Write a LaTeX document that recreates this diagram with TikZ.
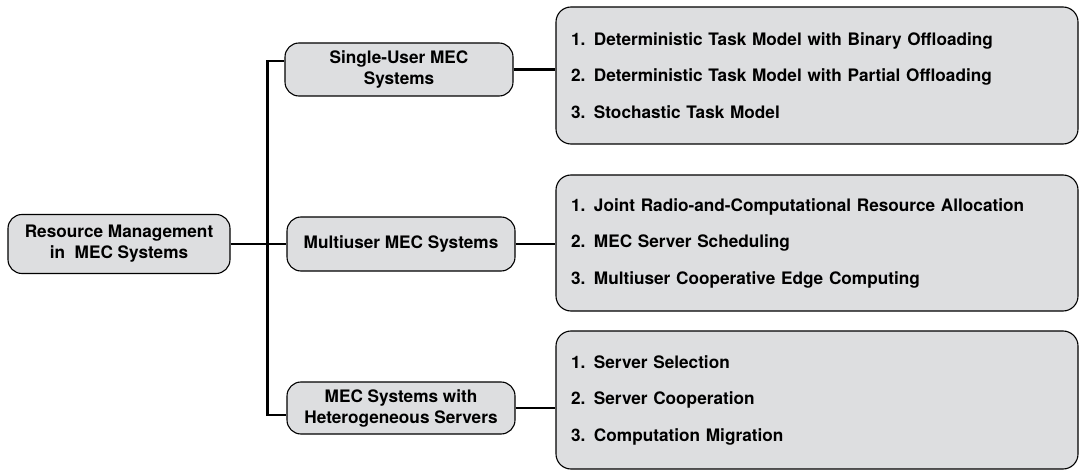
\documentclass[tikz,border=0pt]{standalone}
\usepackage{fontspec}
\setmainfont{TeX Gyre Heros}
\usepackage{tikz}
\usetikzlibrary{positioning}
\definecolor{boxgray}{RGB}{221,222,224}
\tikzstyle{catbox} = [draw, line width=1.1pt, fill=boxgray, rounded corners=14pt, align=center, inner sep=0pt]
\tikzstyle{listbox} = [draw, line width=1.1pt, fill=boxgray, rounded corners=15pt, align=left, inner sep=0pt, text width=492pt, minimum width=522pt]
\tikzstyle{conn} = [draw, line width=2.2pt]

\begin{document}
\begin{tikzpicture}[x=1pt,y=1pt]
	\tikzstyle{every node}=[font=\fontsize{17.2}{21}\selectfont\bfseries]
	\useasboundingbox (0,0) rectangle (1079,472);
	
	% ------------------- Root and categories ------------------- %
	\node[catbox, minimum width=222pt, minimum height=59pt] (root) at (119,228) {Resource Management\\in\ \ MEC Systems};
	\node[catbox, minimum width=228pt, minimum height=53pt] (single) at (399,402.5) {Single-User MEC\\Systems};
	\node[catbox, minimum width=228pt, minimum height=54pt] (multi) at (401,228) {Multiuser MEC Systems};
	\node[catbox, minimum width=228pt, minimum height=52pt] (hetero) at (401,64) {MEC Systems with\\Heterogeneous Servers};
	
	% ------------------- Lists ------------------- %
	\node[listbox, minimum height=137pt, font=\fontsize{17.2}{36.5}\selectfont\bfseries] (singlelist) at (817,396.5)
		{1. Deterministic Task Model with Binary Offloading\\2. Deterministic Task Model with Partial Offloading\\3. Stochastic Task Model};
	\node[listbox, minimum height=136pt, font=\fontsize{17.2}{36.5}\selectfont\bfseries] (multilist) at (817,229)
		{1. Joint Radio-and-Computational Resource Allocation\\2. MEC Server Scheduling\\3. Multiuser Cooperative Edge Computing};
	\node[listbox, minimum height=138pt, font=\fontsize{17.2}{36.5}\selectfont\bfseries] (heterolist) at (817,72)
		{1. Server Selection\\2. Server Cooperation\\3. Computation Migration};
	
	% ------------------- Connectors ------------------- %
	\draw[conn] (root.east) -- (multi.west);
	\draw[conn] ([yshift=8.5pt]single.west) -- ++(-17,0) |- ([yshift=-7pt]hetero.west);
	\draw[conn] (single.east) -- (single.east -| singlelist.west);
	\draw[conn] (multi.east) -- (multi.east -| multilist.west);
	\draw[conn] (hetero.east) -- (hetero.east -| heterolist.west);
\end{tikzpicture}
\end{document}
